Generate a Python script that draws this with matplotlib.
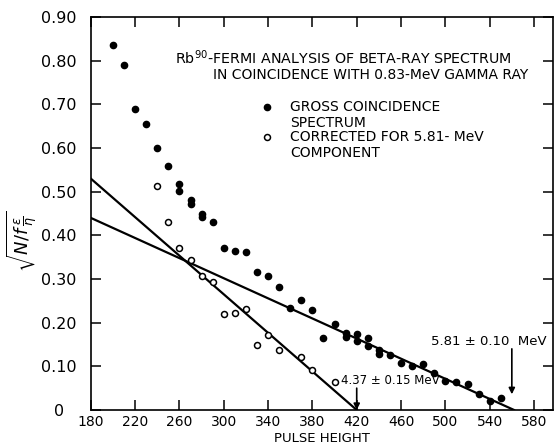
import matplotlib.pyplot as plt

# gross coincidence spectrum (filled dots)
gross_x = [200, 210, 220, 230, 240, 250, 260, 260, 270, 270, 280, 280, 290,
           300, 310, 320, 330, 340, 350, 360, 370, 380, 390, 400,
           410, 410, 420, 420, 430, 430, 440, 440, 450, 460, 470, 480,
           490, 500, 510, 520, 530, 540, 550]
gross_y = [0.835, 0.79, 0.69, 0.655, 0.60, 0.558, 0.518, 0.502, 0.48, 0.472,
           0.45, 0.443, 0.43, 0.37, 0.365, 0.363, 0.316, 0.308, 0.282, 0.234,
           0.251, 0.229, 0.166, 0.196, 0.177, 0.167, 0.173, 0.159, 0.164,
           0.146, 0.137, 0.128, 0.126, 0.107, 0.101, 0.105, 0.084, 0.067,
           0.065, 0.059, 0.036, 0.021, 0.027]

# corrected for 5.81-MeV component (open dots)
corr_x = [240, 250, 260, 270, 280, 290, 300, 310, 320, 330, 340, 350, 370, 380, 400]
corr_y = [0.512, 0.43, 0.37, 0.344, 0.308, 0.294, 0.219, 0.222, 0.232,
          0.148, 0.171, 0.137, 0.122, 0.091, 0.063]

# fitted straight lines
fit1_x = [180, 420]
fit1_y = [0.53, 0.0]
fit2_x = [180, 562]
fit2_y = [0.44, 0.0]

xticks = [180, 220, 260, 300, 340, 380, 420, 460, 500, 540, 580]
yticks = [0, 0.1, 0.2, 0.3, 0.4, 0.5, 0.6, 0.7, 0.8, 0.9]
ylabels = ["0", "0.10", "0.20", "0.30", "0.40", "0.50", "0.60", "0.70", "0.80", "0.90"]

fig = plt.figure(figsize=(5.56, 4.44), dpi=100)
ax = fig.add_axes([0.1633, 0.0766, 0.831, 0.885])

ax.plot(fit1_x, fit1_y, color="black", lw=1.6)
ax.plot(fit2_x, fit2_y, color="black", lw=1.6)
ax.plot(gross_x, gross_y, "o", color="black", ms=4.5, zorder=3)
ax.plot(corr_x, corr_y, "o", mfc="white", mec="black", mew=1.1, ms=4.3, zorder=3)

ax.set_xlim(180, 597)
ax.set_ylim(0, 0.9)
ax.set_xticks(xticks)
ax.set_yticks(yticks)
ax.set_yticklabels(ylabels)
ax.tick_params(direction="in", length=7, width=1.1, top=True, right=True,
               labelsize=10)
ax.tick_params(axis="y", pad=23, labelsize=11.5)
for lbl in ax.get_yticklabels():
    lbl.set_ha("center")
for s in ax.spines.values():
    s.set_linewidth(1.2)

ax.set_xlabel("PULSE HEIGHT", fontsize=9.5, labelpad=2)
ax.set_ylabel(r"$\sqrt{N/f\,\frac{\epsilon}{\eta}}$", fontsize=13, va="center")
ax.yaxis.set_label_coords(-0.148, 0.43)

ax.text(0.182, 0.897, r"Rb$^{90}$-FERMI ANALYSIS OF BETA-RAY SPECTRUM",
        transform=ax.transAxes, fontsize=10.3, va="center")
ax.text(0.264, 0.853, "IN COINCIDENCE WITH 0.83-MeV GAMMA RAY",
        transform=ax.transAxes, fontsize=10, va="center")

# legend drawn by hand
ax.plot([0.381], [0.771], "o", color="black", ms=4.5, transform=ax.transAxes)
ax.text(0.431, 0.771, "GROSS COINCIDENCE", transform=ax.transAxes, fontsize=10, va="center")
ax.text(0.431, 0.730, "SPECTRUM", transform=ax.transAxes, fontsize=10, va="center")
ax.plot([0.381], [0.695], "o", mfc="white", mec="black", mew=1.1, ms=4.3,
        transform=ax.transAxes)
ax.text(0.431, 0.695, "CORRECTED FOR 5.81- MeV", transform=ax.transAxes, fontsize=10, va="center")
ax.text(0.431, 0.654, "COMPONENT", transform=ax.transAxes, fontsize=10, va="center")

# end point annotations
ax.text(406, 0.068, "4.37 ± 0.15 MeV", fontsize=8.5, va="center")
ax.annotate("", xy=(420, 0.0), xytext=(420, 0.05),
            arrowprops=dict(arrowstyle="-|>", color="black", lw=1.2,
                            mutation_scale=9, shrinkA=0, shrinkB=0))
ax.text(487, 0.158, "5.81 ± 0.10  MeV", fontsize=9.5, va="center")
ax.annotate("", xy=(560, 0.036), xytext=(560, 0.14),
            arrowprops=dict(arrowstyle="-|>", color="black", lw=1.2,
                            mutation_scale=9, shrinkA=0, shrinkB=0))

fig.savefig("out.png", dpi=100)
